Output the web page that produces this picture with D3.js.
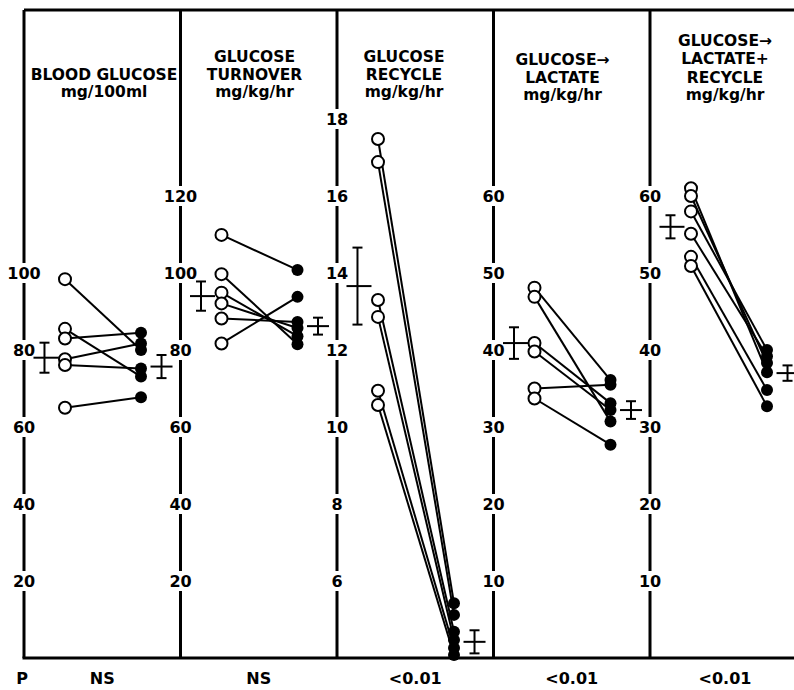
<!DOCTYPE html>
<html><head><meta charset="utf-8">
<script src="https://cdn.jsdelivr.net/npm/d3@7"></script>
<style>html,body{margin:0;padding:0;background:#fff;}svg{display:block;}</style>
</head><body>
<svg id="chart" width="794" height="690"></svg>
<script>
// ---------- data ----------
const panelTitles = [
  ["BLOOD GLUCOSE", "mg/100ml"],
  ["GLUCOSE", "TURNOVER", "mg/kg/hr"],
  ["GLUCOSE", "RECYCLE", "mg/kg/hr"],
  ["GLUCOSE\u2192", "LACTATE", "mg/kg/hr"],
  ["GLUCOSE\u2192", "LACTATE+", "RECYCLE", "mg/kg/hr"]
];
const pLabels = ["NS", "NS", "<0.01", "<0.01", "<0.01"];
const tickValues = [
  [20, 40, 60, 80, 100],
  [20, 40, 60, 80, 100, 120],
  [6, 8, 10, 12, 14, 16, 18],
  [10, 20, 30, 40, 50, 60],
  [10, 20, 30, 40, 50, 60]
];
const domainMin = [0, 0, 4, 0, 0];
const domainRef = [100, 100, 18, 60, 60];

const bloodBefore    = [98.4, 85.5, 83.0, 77.6, 76.1, 65.0];
const bloodAfter     = [80.0, 73.1, 84.5, 81.7, 75.2, 67.7];
const turnoverBefore = [109.9, 99.7, 94.9, 92.1, 88.2, 81.7];
const turnoverAfter  = [100.8, 81.5, 83.6, 85.7, 87.3, 93.8];
const recycleBefore  = [17.48, 16.88, 13.30, 12.86, 10.94, 10.57];
const recycleAfter   = [5.42, 5.12, 4.68, 4.47, 4.26, 4.08];
const lactateBefore  = [48.1, 46.9, 40.9, 39.8, 35.0, 33.7];
const lactateAfter   = [36.1, 30.7, 33.1, 32.2, 35.5, 27.7];
const combinedBefore = [61.0, 60.0, 58.0, 55.1, 52.1, 50.9];
const combinedAfter  = [37.1, 38.3, 40.0, 39.2, 34.8, 32.7];

const meanBefore = [78.0, 94.0, 13.66, 40.9, 56.0];
const semBefore  = [3.9, 3.8, 1.0, 2.05, 1.5];
const meanAfter  = [75.7, 86.2, 4.42, 32.2, 37.0];
const semAfter   = [3.0, 2.2, 0.3, 1.15, 1.0];

const befores = [bloodBefore, turnoverBefore, recycleBefore, lactateBefore, combinedBefore];
const afters  = [bloodAfter, turnoverAfter, recycleAfter, lactateAfter, combinedAfter];

// ---------- layout ----------
const svg = d3.select("#chart");
const W = 794, H = 690;
const topY = 10, baseY = 658;
const refY = [273, 273, 119, 196, 196];
const titleDX = [80, 74, 67, 69, 75];
const titleY = [[80, 97], [62, 80, 97], [62, 80, 97], [65, 83, 100], [46, 64, 83, 100]];
const pLabelY = 684;

const panelX = d3.scaleLinear().domain([0, 4]).range([24, 650]);
// condition position within a panel: 0 = before, 1 = after
const condX = d3.scaleLinear().domain([0, 1]).range([41, 117]);

const tickFont = "'DejaVu Sans', sans-serif";
const titleFont = "'DejaVu Sans', sans-serif";

// frame lines
svg.append("line").attr("x1", panelX(0)).attr("x2", W).attr("y1", topY).attr("y2", topY)
  .attr("stroke", "#000").attr("stroke-width", 3);
svg.append("line").attr("x1", panelX(0) - 1.5).attr("x2", W).attr("y1", baseY).attr("y2", baseY)
  .attr("stroke", "#000").attr("stroke-width", 3);

for (let i = 0; i < 5; i++) {
  const ax = panelX(i);
  const y = d3.scaleLinear().domain([domainMin[i], domainRef[i]]).range([baseY, refY[i]]);
  const g = svg.append("g");

  // axis line
  g.append("line").attr("x1", ax).attr("x2", ax).attr("y1", topY).attr("y2", baseY)
    .attr("stroke", "#000").attr("stroke-width", 3);

  // tick labels breaking the axis line
  const tg = g.selectAll("g.tick").data(tickValues[i]).enter().append("g")
    .attr("transform", d => `translate(${ax},${y(d)})`);
  tg.append("rect").attr("x", d => -String(d).length * 5.5 - 1).attr("y", -10)
    .attr("width", d => String(d).length * 11 + 2).attr("height", 20).attr("fill", "#fff");
  tg.append("text").text(d => d).attr("text-anchor", "middle").attr("y", 6)
    .attr("font-family", tickFont).attr("font-weight", "bold").attr("font-size", 16)
    .attr("fill", "#000");

  // titles
  g.selectAll("text.title").data(panelTitles[i]).enter().append("text")
    .attr("x", ax + titleDX[i]).attr("y", (d, k) => titleY[i][k])
    .attr("text-anchor", "middle").attr("font-family", titleFont).attr("font-weight", "bold")
    .attr("font-size", 15.5).attr("fill", "#000").text(d => d);

  // p-value
  svg.append("text").attr("x", (panelX(i) + (i < 4 ? panelX(i + 1) : W + 6)) / 2)
    .attr("y", pLabelY).attr("text-anchor", "middle").attr("font-family", tickFont)
    .attr("font-weight", "bold").attr("font-size", 16).attr("fill", "#000").text(pLabels[i]);

  // paired lines
  const pairs = befores[i].map((b, k) => ({ b, a: afters[i][k] }));
  g.selectAll("line.pair").data(pairs).enter().append("line")
    .attr("x1", ax + condX(0)).attr("y1", d => y(d.b))
    .attr("x2", ax + condX(1)).attr("y2", d => y(d.a))
    .attr("stroke", "#000").attr("stroke-width", 2);

  // after: filled
  g.selectAll("circle.after").data(afters[i]).enter().append("circle")
    .attr("cx", ax + condX(1)).attr("cy", d => y(d)).attr("r", 6).attr("fill", "#000");
  // before: open
  g.selectAll("circle.before").data(befores[i]).enter().append("circle")
    .attr("cx", ax + condX(0)).attr("cy", d => y(d)).attr("r", 6)
    .attr("fill", "#fff").attr("stroke", "#000").attr("stroke-width", 2);

  // mean +/- SEM
  const means = [
    { x: ax + condX(-0.27), m: meanBefore[i], s: semBefore[i], l: 11, r: 14 },
    { x: ax + condX(1.27), m: meanAfter[i], s: semAfter[i], l: 11, r: 11 }
  ];
  const mg = g.selectAll("g.mean").data(means).enter().append("g")
    .attr("stroke", "#000").attr("stroke-width", 2);
  mg.append("line").attr("x1", d => d.x).attr("x2", d => d.x)
    .attr("y1", d => y(d.m + d.s)).attr("y2", d => y(d.m - d.s));
  mg.append("line").attr("x1", d => d.x - 5).attr("x2", d => d.x + 5)
    .attr("y1", d => y(d.m + d.s)).attr("y2", d => y(d.m + d.s));
  mg.append("line").attr("x1", d => d.x - 5).attr("x2", d => d.x + 5)
    .attr("y1", d => y(d.m - d.s)).attr("y2", d => y(d.m - d.s));
  mg.append("line").attr("x1", d => d.x - d.l).attr("x2", d => d.x + d.r)
    .attr("y1", d => y(d.m)).attr("y2", d => y(d.m));
}

// "P" label under first axis
svg.append("text").attr("x", panelX(0) - 2).attr("y", pLabelY).attr("text-anchor", "middle")
  .attr("font-family", tickFont).attr("font-weight", "bold").attr("font-size", 16)
  .attr("fill", "#000").text("P");
</script>
</body></html>
